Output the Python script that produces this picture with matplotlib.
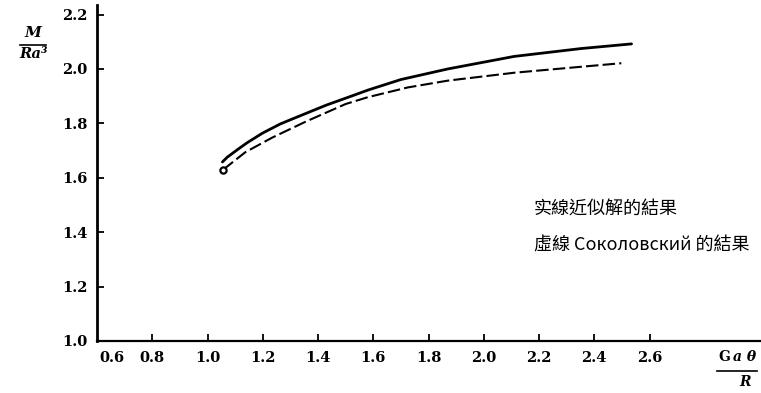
import matplotlib.pyplot as plt
import matplotlib.transforms as mtransforms

plt.rcParams['font.family'] = ['DejaVu Serif']

# Torque ratio M/(R a^3) against G a theta / R
x_solid = [1.054, 1.072, 1.112, 1.144, 1.199, 1.264, 1.319, 1.430, 1.526, 1.580,
           1.700, 1.870, 2.110, 2.353, 2.535]
y_solid = [1.658, 1.676, 1.706, 1.729, 1.764, 1.798, 1.821, 1.867, 1.902, 1.922,
           1.961, 2.000, 2.046, 2.075, 2.092]

x_dashed = [1.057, 1.137, 1.235, 1.355, 1.500, 1.580, 1.725, 1.870, 2.110, 2.353, 2.498]
y_dashed = [1.630, 1.694, 1.748, 1.806, 1.871, 1.896, 1.932, 1.957, 1.986, 2.008, 2.021]

x_ticks = [0.6, 0.8, 1.0, 1.2, 1.4, 1.6, 1.8, 2.0, 2.2, 2.4, 2.6]
y_ticks = [1.0, 1.2, 1.4, 1.6, 1.8, 2.0, 2.2]

legend_lines = ['实線近似解的結果', '虛線 Соколовский 的結果']

fig = plt.figure(figsize=(7.61, 3.93), dpi=100)
ax = fig.add_axes([97 / 761, 52 / 393, 663 / 761, 336 / 393])

ax.plot(x_solid, y_solid, color='black', lw=2.0, solid_capstyle='round', solid_joinstyle='round')
ax.plot(x_dashed, y_dashed, color='black', lw=1.5, dashes=(6, 2))
ax.plot(x_dashed[0], y_dashed[0], marker='o', ms=4.5, mfc='white', mec='black', mew=1.6)

ax.set_xlim(0.6, 3.0)
ax.set_ylim(1.0, 2.235)

for side in ['top', 'right']:
    ax.spines[side].set_visible(False)
ax.spines['left'].set_linewidth(2.0)
ax.spines['bottom'].set_linewidth(1.6)

ax.set_xticks(x_ticks)
ax.set_xticklabels([f'{v:.1f}' for v in x_ticks])
ax.set_yticks(y_ticks)
ax.set_yticklabels([f'{v:.1f}' for v in y_ticks])
ax.tick_params(axis='both', direction='in', length=5, width=1.3,
               labelsize=10.5, colors='black')
ax.tick_params(axis='x', pad=7)
ax.tick_params(axis='y', pad=7)
for lab in ax.get_xticklabels() + ax.get_yticklabels():
    lab.set_fontweight('bold')

# nudge the 0.6 label off the y axis
first = ax.get_xticklabels()[0]
first.set_transform(first.get_transform() + mtransforms.ScaledTranslation(0.15, 0, fig.dpi_scale_trans))
ax.xaxis.get_major_ticks()[0].tick1line.set_visible(False)

# axis labels written as fractions
fig.text(33 / 761, 1 - 33 / 393, 'M', ha='center', va='center', fontsize=11,
         style='italic', fontweight='bold')
fig.add_artist(plt.Line2D([20 / 761, 46 / 761], [1 - 45 / 393, 1 - 45 / 393], color='black', lw=1.2))
fig.text(34 / 761, 1 - 54 / 393, 'Ra³', ha='center', va='center', fontsize=10.5,
         style='italic', fontweight='bold')

fig.text(724 / 761, 1 - 357 / 393, 'G', ha='center', va='center',
         fontsize=10, fontweight='bold')
fig.text(745 / 761, 1 - 357 / 393, 'a θ', ha='center', va='center',
         fontsize=10, style='italic', fontweight='bold')
fig.add_artist(plt.Line2D([717 / 761, 757 / 761], [1 - 371 / 393, 1 - 371 / 393], color='black', lw=1.2))
fig.text(745 / 761, 1 - 382 / 393, 'R', ha='center', va='center', fontsize=10,
         style='italic', fontweight='bold')

for i, line in enumerate(legend_lines):
    fig.text(534 / 761, 1 - (210 + 36 * i) / 393, line, ha='left', va='center', fontsize=13,
             family=['Noto Sans CJK TC', 'DejaVu Serif'], fontweight='medium')

fig.savefig('out.png', dpi=100)
